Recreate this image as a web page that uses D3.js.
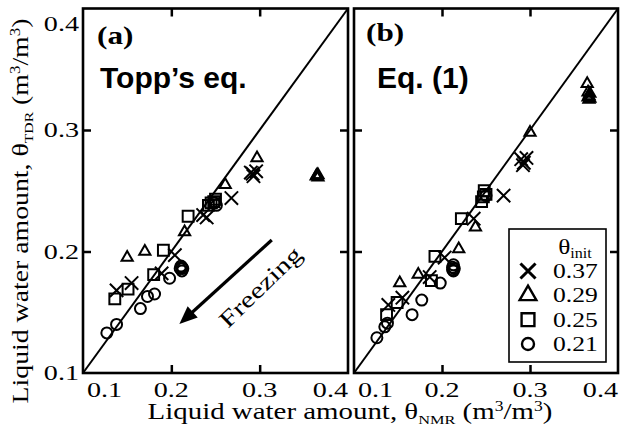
<!DOCTYPE html>
<html>
<head>
<meta charset="utf-8">
<script src="https://cdn.jsdelivr.net/npm/d3@7"></script>
<style>
  html, body { margin: 0; padding: 0; background: #fff; }
  svg { display: block; }
  .serif { font-family: 'Liberation Serif', 'Times New Roman', serif; fill: #000; }
  .sans { font-family: 'Liberation Sans', Arial, sans-serif; font-weight: bold; fill: #000; }
</style>
</head>
<body>
<div id="app"></div>
<script>
// tick labels, same on both axes of both panels
const ticks = [0.1, 0.2, 0.3, 0.4]
// θinit of each series, legend order (cross, triangle, square, circle)
const initLabels = ['0.37', '0.29', '0.25', '0.21']

// panel (a), Topp's eq. : [θNMR, θTDR]
const toppCross = [[0.290, 0.265], [0.293, 0.262], [0.296, 0.266], [0.292, 0.264], [0.268, 0.244], [0.236, 0.230],
  [0.240, 0.228], [0.204, 0.197], [0.189, 0.182], [0.155, 0.174], [0.138, 0.168]]
const toppTriangle = [[0.297, 0.277], [0.364, 0.262], [0.366, 0.261], [0.365, 0.263], [0.366, 0.263], [0.261, 0.255],
  [0.215, 0.216], [0.170, 0.200], [0.150, 0.195]]
const toppSquare = [[0.242, 0.238], [0.245, 0.240], [0.248, 0.241], [0.250, 0.243], [0.219, 0.229], [0.191, 0.201],
  [0.180, 0.181], [0.151, 0.169], [0.136, 0.161]]
const toppCircle = [[0.249, 0.240], [0.251, 0.238], [0.210, 0.186], [0.212, 0.184], [0.211, 0.188], [0.213, 0.186],
  [0.212, 0.187], [0.198, 0.178], [0.173, 0.163], [0.181, 0.165], [0.165, 0.153], [0.138, 0.140], [0.127, 0.133]]

// panel (b), Eq. (1)
const eq1Cross = [[0.290, 0.276], [0.293, 0.273], [0.296, 0.277], [0.292, 0.271], [0.270, 0.246], [0.236, 0.227],
  [0.203, 0.195], [0.186, 0.179], [0.155, 0.162], [0.139, 0.156]]
const eq1Triangle = [[0.300, 0.298], [0.365, 0.338], [0.366, 0.331], [0.367, 0.328], [0.368, 0.326], [0.366, 0.327],
  [0.368, 0.330], [0.367, 0.325], [0.238, 0.220], [0.219, 0.202], [0.173, 0.181], [0.152, 0.174]]
const eq1Square = [[0.245, 0.241], [0.247, 0.245], [0.248, 0.250], [0.250, 0.247], [0.222, 0.227], [0.192, 0.196],
  [0.188, 0.176], [0.149, 0.158], [0.137, 0.148]]
const eq1Circle = [[0.250, 0.246], [0.213, 0.184], [0.212, 0.187], [0.214, 0.186], [0.213, 0.189], [0.212, 0.185],
  [0.198, 0.174], [0.177, 0.160], [0.166, 0.148], [0.135, 0.138], [0.138, 0.141], [0.126, 0.129]]

const width = 623
const height = 430
const shapes = [d3.symbolTimes, d3.symbolTriangle2, d3.symbolSquare2, d3.symbolCircle]
const plotSize = [118, 90, 150, 95]
const legendSize = [150, 200, 210, 113]
const SX = 1.28 // serif type in the figure is set wide

const svg = d3.select('#app')
  .append('svg')
  .attr('width', width)
  .attr('height', height)

const yScale = d3.scaleLinear()
  .domain([0.1, 0.4])
  .range([373, 8.5])

// serif text, stretched horizontally; fit = target length in px (optional)
function serifText(g, x, y, size, { anchor = 'middle', rotate = 0, sx = SX, fit = 0, bold = false } = {}) {
  const t = g.append('text')
    .attr('class', 'serif')
    .attr('font-size', size)
    .attr('font-weight', bold ? 'bold' : null)
    .attr('text-anchor', anchor)
  t.fit = () => {
    const k = fit ? fit / t.node().getComputedTextLength() : sx
    t.attr('transform', `translate(${x},${y}) rotate(${rotate}) scale(${k},1)`)
    return t
  }
  t.fit()
  return t
}

const panels = [
  { tag: '(a)', name: 'Topp’s eq.', left: 83, right: 348, tagX: 97, tagY: 44, nameX: 100,
    series: [toppCross, toppTriangle, toppSquare, toppCircle] },
  { tag: '(b)', name: 'Eq. (1)', left: 354, right: 618, tagX: 366, tagY: 41, nameX: 377,
    series: [eq1Cross, eq1Triangle, eq1Square, eq1Circle] },
]

panels.forEach((p, pi) => {
  const x = d3.scaleLinear()
    .domain([0.1, 0.4])
    .range([p.left, p.right])
  const g = svg.append('g')

  // 1:1 line
  g.append('line')
    .attr('x1', x(0.1)).attr('y1', yScale(0.1))
    .attr('x2', x(0.4)).attr('y2', yScale(0.4))
    .attr('stroke', '#000')
    .attr('stroke-width', 2)

  // markers
  p.series.forEach((pts, si) => {
    g.append('g')
      .selectAll('path')
      .data(pts)
      .join('path')
      .attr('transform', d => `translate(${x(d[0])},${yScale(d[1])})`)
      .attr('d', d3.symbol(shapes[si], plotSize[si]))
      .attr('fill', 'none')
      .attr('stroke', '#000')
      .attr('stroke-width', 2)
  })

  // frame + inward ticks on all four sides
  g.append('rect')
    .attr('x', p.left)
    .attr('y', yScale(0.4))
    .attr('width', p.right - p.left)
    .attr('height', yScale(0.1) - yScale(0.4))
    .attr('fill', 'none')
    .attr('stroke', '#000')
    .attr('stroke-width', 2.6)
  const inner = ticks.slice(1, -1)
  const axes = [
    [d3.axisBottom(x), `translate(0,${yScale(0.1)})`],
    [d3.axisTop(x), `translate(0,${yScale(0.4)})`],
    [d3.axisLeft(yScale), `translate(${p.left},0)`],
    [d3.axisRight(yScale), `translate(${p.right},0)`],
  ]
  axes.forEach(([axis, tr]) => {
    const ag = g.append('g')
      .attr('transform', tr)
      .call(axis.tickValues(inner).tickSize(-8).tickFormat(''))
    ag.select('.domain').remove()
    ag.selectAll('line').attr('stroke-width', 2.5)
  })

  // x tick labels
  ticks.forEach((d, i) => {
    const anchor = i === 0 ? 'start' : i === ticks.length - 1 ? 'end' : 'middle'
    serifText(g, x(d) + (i === 0 ? 4 : 0), 397, 22, { anchor }).text(d.toFixed(1))
  })

  // panel tag and method name
  serifText(g, p.tagX, p.tagY, 26, { anchor: 'start', bold: true, sx: 1.2 }).text(p.tag)
  g.append('text')
    .attr('class', 'sans')
    .attr('x', p.nameX)
    .attr('y', 88)
    .attr('font-size', 30)
    .text(p.name)

  if (pi === 0) {
    // y tick labels
    ticks.forEach((d, i) => {
      serifText(g, 79, yScale(d) + (i === ticks.length - 1 ? 22 : 7), 22, { anchor: 'end' }).text(d.toFixed(1))
    })

    // freezing arrow + label
    const tail = [x(0.3137), yScale(0.2095)]
    const tip = [x(0.2091), yScale(0.1403)]
    const ang = Math.atan2(tip[1] - tail[1], tip[0] - tail[0])
    const headLen = 18
    const headHalf = 7.5
    const base = [tip[0] - headLen * Math.cos(ang), tip[1] - headLen * Math.sin(ang)]
    g.append('line')
      .attr('x1', tail[0]).attr('y1', tail[1])
      .attr('x2', base[0] + 2 * Math.cos(ang)).attr('y2', base[1] + 2 * Math.sin(ang))
      .attr('stroke', '#000')
      .attr('stroke-width', 3.2)
    g.append('path')
      .attr('d', `M${tip[0]},${tip[1]}` +
        `L${base[0] + headHalf * Math.sin(ang)},${base[1] - headHalf * Math.cos(ang)}` +
        `L${base[0] - headHalf * Math.sin(ang)},${base[1] + headHalf * Math.cos(ang)}Z`)
      .attr('fill', '#000')
    serifText(g, x(0.3068), yScale(0.1663), 23, { rotate: -44, fit: 105 }).text('Freezing').fit()
  } else {
    // legend
    const lg = g.append('g')
    lg.append('rect')
      .attr('x', 509).attr('y', 229)
      .attr('width', 97).attr('height', 133)
      .attr('fill', '#fff')
      .attr('stroke', '#000')
      .attr('stroke-width', 1.6)
    const head = serifText(lg, 575, 254, 22, { sx: 1.15 })
    head.append('tspan').text('θ')
    head.append('tspan').attr('font-size', 14).attr('dy', 4).text('init')
    const rowY = d3.scalePoint()
      .domain(initLabels)
      .range([271, 344])
    initLabels.forEach((lab, i) => {
      lg.append('path')
        .attr('transform', `translate(528,${rowY(lab)})`)
        .attr('d', d3.symbol(shapes[i], legendSize[i]))
        .attr('fill', 'none')
        .attr('stroke', '#000')
        .attr('stroke-width', i === 0 ? 3 : 2.4)
      serifText(lg, 553, rowY(lab) + 7, 20, { anchor: 'start' }).text(lab)
    })
  }
})

// axis titles
const xt = serifText(svg, 350, 419, 23, { fit: 405 })
xt.append('tspan').text('Liquid water amount, θ')
xt.append('tspan').attr('font-size', 13).attr('dy', 5).text('NMR')
xt.append('tspan').attr('dy', -5).text(' (m')
xt.append('tspan').attr('font-size', 14).attr('dy', -8).text('3')
xt.append('tspan').attr('dy', 8).text('/m')
xt.append('tspan').attr('font-size', 14).attr('dy', -8).text('3')
xt.append('tspan').attr('dy', 8).text(')')
xt.fit()

const yt = serifText(svg, 28, 211, 23, { rotate: -90, fit: 385 })
yt.append('tspan').text('Liquid water amount, θ')
yt.append('tspan').attr('font-size', 13).attr('dy', 5).text('TDR')
yt.append('tspan').attr('dy', -5).text(' (m')
yt.append('tspan').attr('font-size', 14).attr('dy', -8).text('3')
yt.append('tspan').attr('dy', 8).text('/m')
yt.append('tspan').attr('font-size', 14).attr('dy', -8).text('3')
yt.append('tspan').attr('dy', 8).text(')')
yt.fit()
</script>
</body>
</html>
